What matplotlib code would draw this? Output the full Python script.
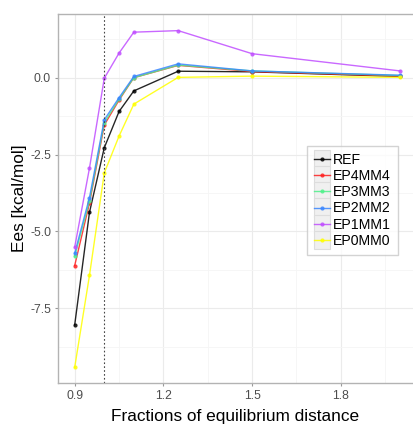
import numpy as np
import matplotlib
matplotlib.use('Agg')
from matplotlib import pyplot as plt
from matplotlib.legend_handler import HandlerLine2D
from matplotlib.lines import Line2D
from matplotlib.patches import Rectangle
from matplotlib.ticker import MultipleLocator

plt.rcParams['font.family'] = ['Liberation Sans', 'DejaVu Sans']

fractions = [0.9, 0.95, 1.0, 1.05, 1.1, 1.25, 1.5, 2.0]
ref = [-8.04, -4.38, -2.28, -1.10, -0.43, 0.21, 0.19, 0.04]
ep4mm4 = [-6.11, -4.08, -1.54, -0.73, 0.00, 0.40, 0.20, 0.05]
ep3mm3 = [-5.81, -4.01, -1.46, -0.70, 0.00, 0.41, 0.22, 0.07]
ep2mm2 = [-5.71, -3.90, -1.37, -0.65, 0.04, 0.45, 0.22, 0.08]
ep1mm1 = [-5.51, -2.94, -0.02, 0.80, 1.48, 1.53, 0.78, 0.22]
ep0mm0 = [-9.42, -6.43, -3.10, -1.90, -0.86, 0.01, 0.05, 0.01]

series = [
    ('REF', ref, 'black'),
    ('EP4MM4', ep4mm4, '#FF2020'),
    ('EP3MM3', ep3mm3, '#4EF08A'),
    ('EP2MM2', ep2mm2, '#3A86FF'),
    ('EP1MM1', ep1mm1, '#C04EFF'),
    ('EP0MM0', ep0mm0, '#FFFF00'),
]


class KeyHandler(HandlerLine2D):
    # grey key background behind each legend line, like ggplot
    def create_artists(self, legend, orig_handle, xdescent, ydescent,
                       width, height, fontsize, trans):
        arts = super().create_artists(legend, orig_handle, xdescent, ydescent,
                                      width, height, fontsize, trans)
        bg = Rectangle((-xdescent, -ydescent - 3), width, height + 6,
                       facecolor='#F0F0F0', edgecolor='#DDDDDD', lw=0.8,
                       transform=trans)
        return [bg] + list(arts)


fig = plt.figure(figsize=(4.13, 4.25), dpi=100)
ax = fig.add_axes([0.1404, 0.0988, 0.8596, 0.8682])

for name, vals, col in series:
    ax.plot(fractions, vals, color=col, lw=1.0, alpha=0.85,
            marker='o', markersize=3, markeredgewidth=0, label=name)

ax.axvline(1.0, color='#444444', lw=0.8, linestyle=(0, (1.5, 2)))

ax.set_xlim(0.8435, 2.044)
ax.set_ylim(-9.93, 2.07)
ax.xaxis.set_minor_locator(MultipleLocator(0.15))
ax.yaxis.set_minor_locator(MultipleLocator(1.25))
ax.set_xticks([0.9, 1.2, 1.5, 1.8])
ax.set_xticklabels(['0.9', '1.2', '1.5', '1.8'])
ax.set_yticks([0.0, -2.5, -5.0, -7.5])
ax.set_yticklabels(['0.0', '-2.5', '-5.0', '-7.5'])

ax.grid(True, which='major', color='#EBEBEB', lw=0.8)
ax.grid(True, which='minor', color='#F5F5F5', lw=0.6)
ax.set_axisbelow(True)
for s in ['left', 'top', 'bottom']:
    ax.spines[s].set_color('#B3B3B3')
    ax.spines[s].set_linewidth(1.0)
ax.spines['right'].set_visible(False)
ax.tick_params(which='major', length=2.5, color='#999999', labelcolor='#4D4D4D',
               labelsize=8.8, pad=2.5)
ax.tick_params(which='minor', length=0)

ax.set_xlabel('Fractions of equilibrium distance', fontsize=12.4, labelpad=4.8)
ax.set_ylabel('Ees [kcal/mol]', fontsize=12.4, labelpad=2.5)

leg = ax.legend(loc='upper left', bbox_to_anchor=(0.7014, 0.6423),
                fontsize=10.2, frameon=True, fancybox=False,
                edgecolor='#C8C8C8', handlelength=1.15, handletextpad=0.2,
                labelspacing=0.15, borderpad=0.5, borderaxespad=0,
                handler_map={Line2D: KeyHandler()})
leg.get_frame().set_linewidth(1.0)

fig.savefig('out.png', dpi=100)
